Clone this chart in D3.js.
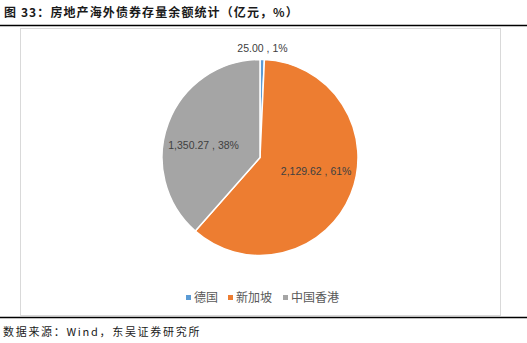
<!DOCTYPE html>
<html>
<head>
<meta charset="utf-8">
<script src="https://cdn.jsdelivr.net/npm/d3@7"></script>
<style>
  body { margin: 0; background: #fff; }
  svg { display: block; }
</style>
</head>
<body>
<svg id="chart" width="527" height="343"></svg>
<script>
// data
var regions = ["德国", "新加坡", "中国香港"];
var balances = [25.00, 2129.62, 1350.27];
var shareLabels = ["1%", "61%", "38%"];
var colors = ["#5B9BD5", "#ED7D31", "#A5A5A5"];

var titleText = "图 33：房地产海外债券存量余额统计（亿元，%）";
var sourceText = "数据来源：Wind，东吴证券研究所";

var svg = d3.select("#chart"),
    W = +svg.attr("width"),
    H = +svg.attr("height");

var cjk = "'Noto Sans CJK SC', 'Noto Sans', sans-serif";

// header
svg.append("text")
    .attr("x", 4)
    .attr("y", 17)
    .attr("font-family", cjk)
    .attr("font-size", 12)
    .attr("font-weight", "bold")
    .attr("letter-spacing", 1.1)
    .attr("fill", "#1a1a1a")
    .text(titleText);

svg.append("line")
    .attr("x1", 0).attr("x2", W)
    .attr("y1", 25.5).attr("y2", 25.5)
    .attr("stroke", "#000")
    .attr("stroke-width", 1.5);

// chart frame
svg.append("rect")
    .attr("x", 20.5).attr("y", 28.5)
    .attr("width", 480).attr("height", 287)
    .attr("fill", "#fff")
    .attr("stroke", "#d9d9d9");

svg.append("line")
    .attr("x1", 0).attr("x2", W)
    .attr("y1", 317.5).attr("y2", 317.5)
    .attr("stroke", "#000")
    .attr("stroke-width", 1.5);

svg.append("text")
    .attr("x", 3)
    .attr("y", 336)
    .attr("font-family", cjk)
    .attr("font-size", 11)
    .attr("letter-spacing", 1.7)
    .attr("fill", "#1a1a1a")
    .text(sourceText);

// pie
var cx = 260, cy = 157.5, radius = 98;
var total = d3.sum(balances);

var pie = d3.pie().sort(null).value(function(d) { return d; });
var arc = d3.arc().innerRadius(0).outerRadius(radius);
var arcs = pie(balances);

var g = svg.append("g")
    .attr("transform", "translate(" + cx + "," + cy + ")");

g.selectAll("path.slice")
    .data(arcs)
    .enter().append("path")
    .attr("class", "slice")
    .attr("d", arc)
    .attr("fill", function(d, i) { return colors[i]; })
    .attr("stroke", "#fff")
    .attr("stroke-width", 1.5)
    .attr("stroke-linejoin", "round");

var fmt = d3.format(",.2f");
var labelShift = -8 * Math.PI / 180; // Excel nudges inside labels a little

g.selectAll("text.lbl")
    .data(arcs)
    .enter().append("text")
    .attr("class", "lbl")
    .attr("transform", function(d) {
        var small = (d.value / total) < 0.05;
        var r = small ? radius + 11 : radius * 0.59;
        var a = (d.startAngle + d.endAngle) / 2 + (small ? 0 : labelShift);
        return "translate(" + (Math.sin(a) * r) + "," + (-Math.cos(a) * r) + ")";
    })
    .attr("text-anchor", "middle")
    .attr("dy", "0.35em")
    .attr("font-family", "'Liberation Sans', Arial, sans-serif")
    .attr("font-size", 10.5)
    .attr("fill", "#404040")
    .text(function(d, i) { return fmt(d.value) + " , " + shareLabels[i]; });

// legend
var legendX = [186, 228, 283];
var legend = svg.append("g").attr("transform", "translate(0,298)");
var items = legend.selectAll("g")
    .data(regions)
    .enter().append("g")
    .attr("transform", function(d, i) { return "translate(" + legendX[i] + ",0)"; });

items.append("rect")
    .attr("x", 0).attr("y", -3)
    .attr("width", 5).attr("height", 5)
    .attr("fill", function(d, i) { return colors[i]; });

items.append("text")
    .attr("x", 8)
    .attr("y", 0)
    .attr("dy", "0.35em")
    .attr("font-family", cjk)
    .attr("font-size", 12)
    .attr("fill", "#595959")
    .text(function(d) { return d; });
</script>
</body>
</html>
